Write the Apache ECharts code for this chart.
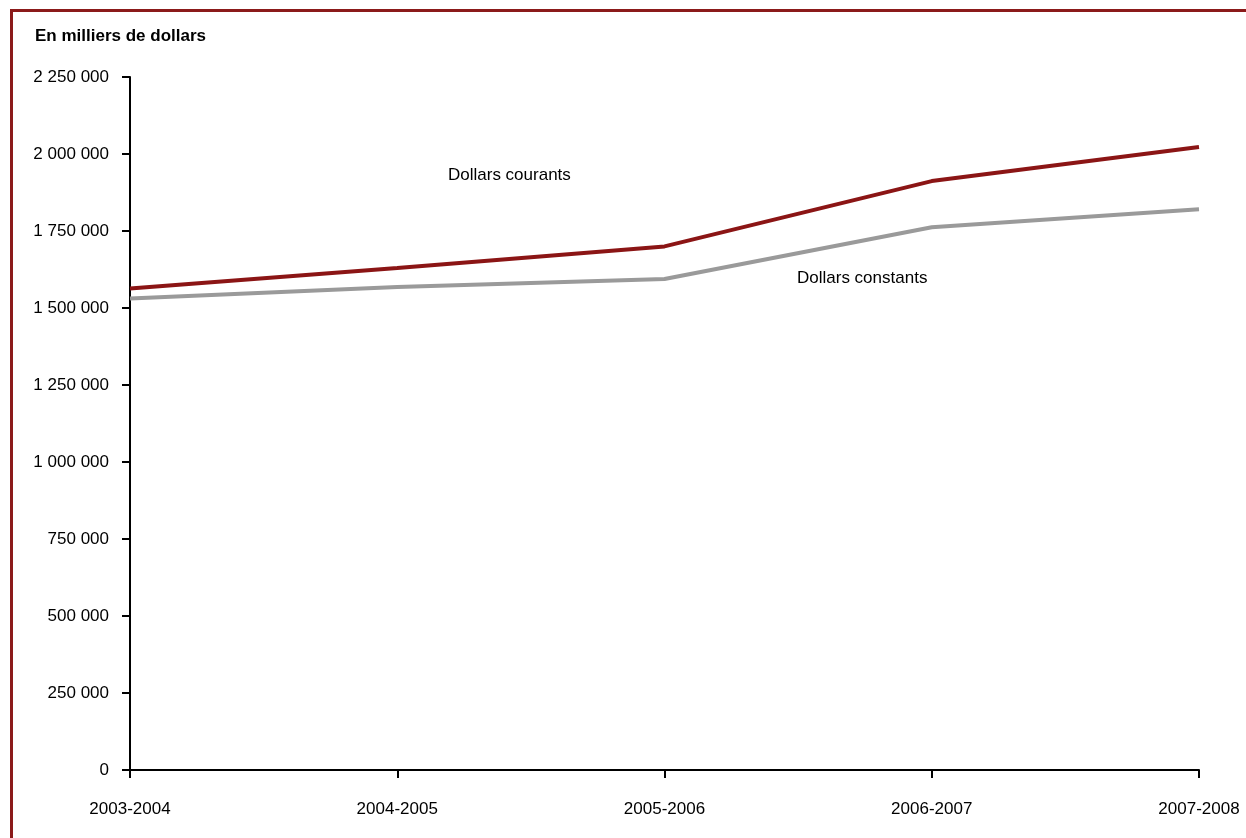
<!DOCTYPE html>
<html><head><meta charset="utf-8">
<script src="https://cdn.jsdelivr.net/npm/echarts@6/dist/echarts.min.js"></script>
<style>html,body{margin:0;padding:0;background:#fff}#c{width:1246px;height:838px}
#frame{position:absolute;left:10px;top:9px;width:1250px;height:840px;border-left:3px solid #8B1A1A;border-top:3px solid #8B1A1A;box-sizing:border-box;pointer-events:none}</style>
</head><body>
<div id="c"></div><div id="frame"></div>
<script>
const categories = ['2003-2004','2004-2005','2005-2006','2006-2007','2007-2008'];
const courants = [1563000, 1630000, 1700000, 1912000, 2023000];
const constants = [1531000, 1568000, 1594000, 1762000, 1821000];
const yTicks = [0, 250000, 500000, 750000, 1000000, 1250000, 1500000, 1750000, 2000000, 2250000];
const FONT = "'Liberation Sans Narrow', 'Arial Narrow', 'Liberation Sans', sans-serif";
function fmt(v){ return String(v).replace(/\B(?=(\d{3})+(?!\d))/g, ' '); }
const chart = echarts.init(document.getElementById('c'));
chart.setOption({
  animation:false,
  backgroundColor:'#fff',
  grid:{left:130, right:47, top:77, bottom:68},
  xAxis:{type:'category', data:categories, boundaryGap:false,
    axisLine:{lineStyle:{color:'#000', width:2}},
    axisTick:{show:true, length:8, lineStyle:{color:'#000', width:2}},
    axisLabel:{color:'#000', fontFamily:FONT, fontSize:17, margin:31}},
  yAxis:{type:'value', min:0, max:yTicks[yTicks.length-1], interval:250000,
    axisLine:{show:true, lineStyle:{color:'#000', width:2}},
    axisTick:{show:true, length:8, lineStyle:{color:'#000', width:2}},
    splitLine:{show:false},
    axisLabel:{color:'#000', fontFamily:FONT, fontSize:17, margin:21, formatter:fmt}},
  series:[
    {name:'Dollars courants', type:'line', data:courants, symbol:'none', lineStyle:{color:'#8B1515', width:4}},
    {name:'Dollars constants', type:'line', data:constants, symbol:'none', lineStyle:{color:'#9a9a9a', width:4}}
  ],
  graphic:[
    {type:'text', left:35, top:28, style:{text:'En milliers de dollars', fontFamily:FONT, fontSize:17, fontWeight:'bold', fill:'#000'}},
    {type:'text', left:448, top:167, style:{text:'Dollars courants', fontFamily:FONT, fontSize:17, fill:'#000'}},
    {type:'text', left:797, top:270, style:{text:'Dollars constants', fontFamily:FONT, fontSize:17, fill:'#000'}}
  ]
});
</script>
</body></html>
